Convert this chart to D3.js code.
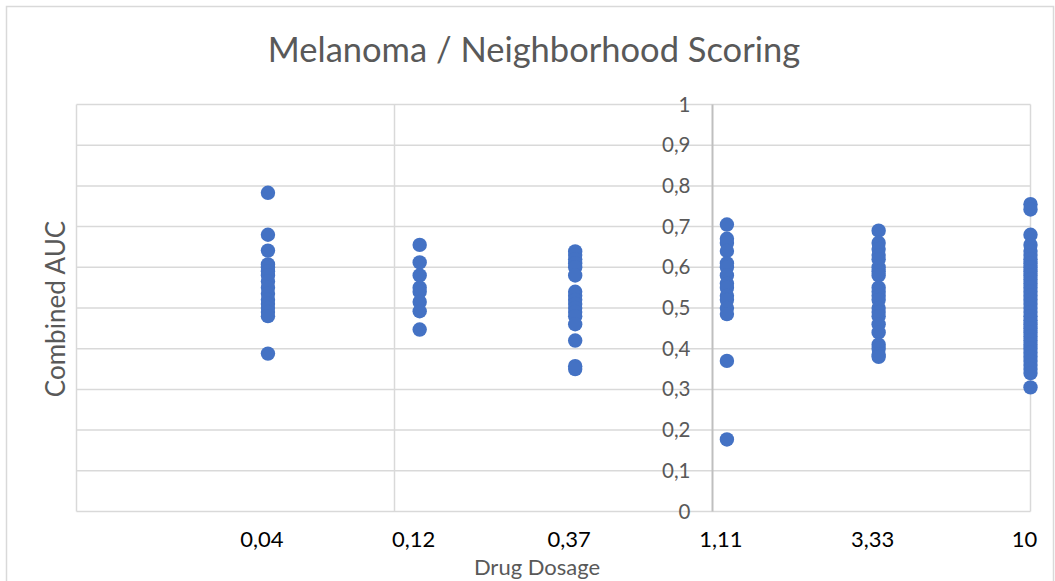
<!DOCTYPE html>
<meta charset="utf-8">
<style>
  body { margin: 0; background: #fff; }
  text { font-family: Lato, "Noto Sans", sans-serif; }
</style>
<svg width="1055" height="581"></svg>
<script src="https://d3js.org/d3.v7.min.js"></script>
<script>

    // dosages and the AUC values read for each one
    var doses = [0.04, 0.12, 0.37, 1.11, 3.33, 10];
    var doseLabels = ["0,04", "0,12", "0,37", "1,11", "3,33", "10"];
    var auc004 = [0.783, 0.68, 0.641, 0.607, 0.60, 0.59, 0.58, 0.565, 0.55, 0.535, 0.52, 0.51, 0.50, 0.49, 0.48, 0.388];
    var auc012 = [0.655, 0.612, 0.58, 0.55, 0.54, 0.515, 0.492, 0.447];
    var auc037 = [0.639, 0.63, 0.62, 0.61, 0.60, 0.58, 0.54, 0.53, 0.52, 0.51, 0.50, 0.49, 0.48, 0.46, 0.42, 0.357, 0.35];
    var auc111 = [0.705, 0.67, 0.66, 0.64, 0.61, 0.60, 0.58, 0.56, 0.55, 0.53, 0.52, 0.50, 0.485, 0.37, 0.177];
    var auc333 = [0.69, 0.66, 0.645, 0.63, 0.62, 0.60, 0.59, 0.58, 0.55, 0.54, 0.53, 0.52, 0.50, 0.49, 0.48, 0.46, 0.44, 0.41, 0.40, 0.385, 0.38];
    var auc10 = [0.755, 0.742, 0.68, 0.655, 0.64, 0.63, 0.62, 0.61, 0.60, 0.59, 0.58, 0.57, 0.56, 0.55, 0.54, 0.53, 0.52, 0.51, 0.50, 0.49, 0.48, 0.47, 0.46, 0.45, 0.44, 0.43, 0.42, 0.41, 0.40, 0.39, 0.38, 0.37, 0.36, 0.35, 0.34, 0.305];
    var yTicks = [0, 0.1, 0.2, 0.3, 0.4, 0.5, 0.6, 0.7, 0.8, 0.9, 1];
    var xGrid = [0.01, 0.1, 1, 10];

    var allAuc = [auc004, auc012, auc037, auc111, auc333, auc10];
    var points = [];
    allAuc.forEach(function(list, i) {
        list.forEach(function(v) { points.push({x: doses[i], y: v}); });
    });

    var svg = d3.select("svg");

    var x = d3.scaleLog().domain([0.01, 10]).range([76.5, 1030.5]);
    var y = d3.scaleLinear().domain([0, 1]).range([511.5, 104.5]);

    // outer chart border
    svg.append("rect")
        .attr("x", 6.5).attr("y", 6.5)
        .attr("width", 1047).attr("height", 600)
        .attr("fill", "none").attr("stroke", "#d9d9d9").attr("stroke-width", 1.5);

    svg.append("text")
        .attr("x", 534).attr("y", 62)
        .attr("text-anchor", "middle")
        .attr("font-size", 34.5)
        .attr("fill", "#595959")
        .text("Melanoma / Neighborhood Scoring");

    // horizontal grid
    svg.append("g").selectAll("line")
        .data(yTicks)
        .enter().append("line")
        .attr("x1", x(0.01)).attr("x2", x(10))
        .attr("y1", function(d) { return y(d); })
        .attr("y2", function(d) { return y(d); })
        .attr("stroke", "#d9d9d9").attr("stroke-width", 1.5);

    // vertical grid (plot frame included)
    svg.append("g").selectAll("line")
        .data(xGrid)
        .enter().append("line")
        .attr("x1", function(d) { return x(d); })
        .attr("x2", function(d) { return x(d); })
        .attr("y1", y(0)).attr("y2", y(1))
        .attr("stroke", function(d) { return d === 1 ? "#bfbfbf" : "#d9d9d9"; })
        .attr("stroke-width", function(d) { return d === 1 ? 2 : 1.5; });

    // y tick labels sit next to the axis crossing at x = 1
    svg.append("g").selectAll("text")
        .data(yTicks)
        .enter().append("text")
        .attr("x", x(1) - 22)
        .attr("y", function(d) { return y(d) + 7; })
        .attr("text-anchor", "end")
        .attr("font-size", 20.5)
        .attr("fill", "#595959")
        .text(function(d) { return String(d).replace(".", ","); });

    // x labels
    svg.append("g").selectAll("text")
        .data(doses)
        .enter().append("text")
        .attr("x", function(d) { return x(d) - 6; })
        .attr("y", 547)
        .attr("text-anchor", "middle")
        .attr("font-size", 22)
        .attr("fill", "#000")
        .text(function(d, i) { return doseLabels[i]; });

    svg.append("text")
        .attr("x", 537).attr("y", 575)
        .attr("text-anchor", "middle")
        .attr("font-size", 22)
        .attr("fill", "#595959")
        .text("Drug Dosage");

    svg.append("text")
        .attr("transform", "translate(65,309) rotate(-90)")
        .attr("text-anchor", "middle")
        .attr("font-size", 26)
        .attr("fill", "#595959")
        .text("Combined AUC");

    svg.append("g").selectAll("circle")
        .data(points)
        .enter().append("circle")
        .attr("cx", function(d) { return x(d.x); })
        .attr("cy", function(d) { return y(d.y); })
        .attr("r", 7.2)
        .attr("fill", "#4472c4");
</script>
